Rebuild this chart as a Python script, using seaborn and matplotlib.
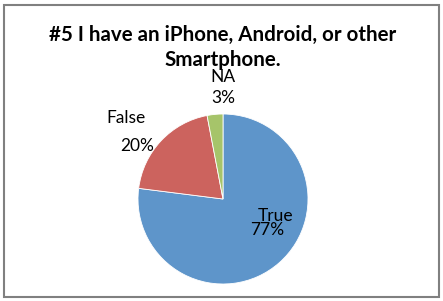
import matplotlib
matplotlib.use("Agg")
import matplotlib.pyplot as plt
import seaborn as sns
from matplotlib.patches import Rectangle

categories = ["True", "False", "NA"]
values = [77, 20, 3]
pct_labels = ["77%", "20%", "3%"]
colors = ["#5E95CA", "#CC635E", "#A6C46A"]

sns.set_theme(style="white")
plt.rcParams['font.family'] = ['Lato', 'DejaVu Sans']

W, H = 443, 301
fig = plt.figure(figsize=(W / 100, H / 100), dpi=100)
fig.patch.set_facecolor("white")

cx, cy, r = 223, 199, 85
ax = fig.add_axes([(cx - r) / W, (H - cy - r) / H, 2 * r / W, 2 * r / H])
ax.pie(values, colors=colors, startangle=90, counterclock=False,
       radius=1, wedgeprops=dict(edgecolor="white", linewidth=0.6))
ax.set_xlim(-1, 1)
ax.set_ylim(-1, 1)
ax.set_aspect("auto")
ax.axis("off")

# label positions (data coords relative to pie)
name_pos = {"True": (0.62, -0.20), "False": (-1.14, 0.95), "NA": (0.0, 1.44)}
pct_pos = {"True": (0.52, -0.365), "False": (-1.01, 0.62), "NA": (0.0, 1.19)}
for cat, pl in zip(categories, pct_labels):
    x, y = name_pos[cat]
    ax.text(x, y, cat, ha="center", va="center", fontsize=12.5, color="black", clip_on=False)
    x, y = pct_pos[cat]
    ax.text(x, y, pl, ha="center", va="center", fontsize=12.5, color="black", clip_on=False)

fig.text(223 / W, 1 - 35 / H, "#5 I have an iPhone, Android, or other",
         ha="center", va="center", fontsize=14.8, fontweight="bold", color="black")
fig.text(223 / W, 1 - 60 / H, "Smartphone.",
         ha="center", va="center", fontsize=14.8, fontweight="bold", color="black")

fig.patches.append(Rectangle((4 / W, 4 / H), (W - 8) / W, (H - 9) / H,
                             transform=fig.transFigure, fill=False,
                             edgecolor="#808080", linewidth=1.5))

fig.savefig("out.png", dpi=100)
